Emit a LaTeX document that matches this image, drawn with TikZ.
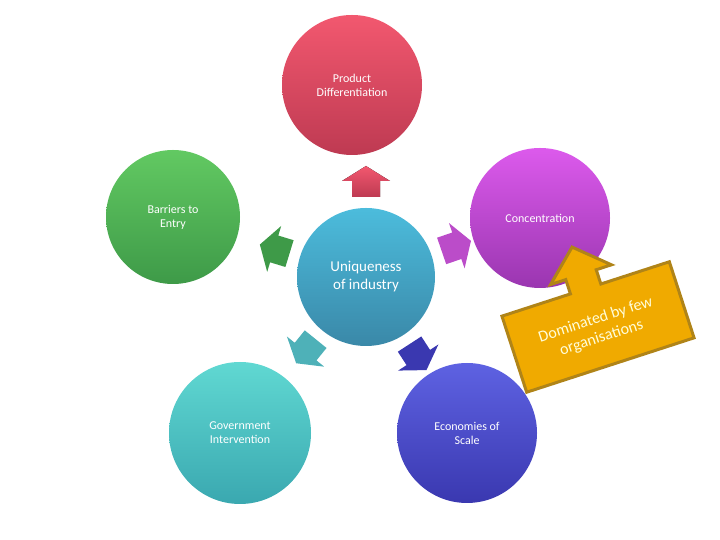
\documentclass[tikz,border=0pt]{standalone}
\usepackage{fontspec}
\setmainfont{Carlito}
\definecolor{rA}{HTML}{F2586F}\definecolor{rB}{HTML}{BE3A52}
\definecolor{gA}{HTML}{62C962}\definecolor{gB}{HTML}{3E9A48}
\definecolor{mA}{HTML}{DC5AEC}\definecolor{mB}{HTML}{9A36B0}
\definecolor{tA}{HTML}{60D8D2}\definecolor{tB}{HTML}{3AA8B0}
\definecolor{bA}{HTML}{5E62E2}\definecolor{bB}{HTML}{3A38B0}
\definecolor{cA}{HTML}{4CBCDC}\definecolor{cB}{HTML}{3A88A8}
\definecolor{oF}{HTML}{F0AA00}\definecolor{oD}{HTML}{B08418}
\begin{document}
\begin{tikzpicture}[x=1pt,y=1pt,
  circ/.style={circle,minimum size=#1,inner sep=0pt,align=center,text=white,font=\fontsize{12}{14}\selectfont},
  barrow/.pic={\fill[pic actions] (-16,-14)--(0,-14)--(0,-24)--(15,0)--(0,24)--(0,14)--(-16,14)--cycle;}]
\useasboundingbox (0,0) rectangle (720,540);
\node[circ=140pt,top color=rA,bottom color=rB] (pd) at (352,455) {Product\\Differentiation};
\node[circ=134pt,top color=gA,bottom color=gB] (be) at (173,323) {Barriers to\\Entry};
\node[circ=140pt,top color=mA,bottom color=mB] (co) at (540,322) {Concentration};
\node[circ=142pt,top color=tA,bottom color=tB] (gi) at (240,107) {Government\\Intervention};
\node[circ=140pt,top color=bA,bottom color=bB] (es) at (467,107) {Economies of\\Scale};
\node[circ=138pt,top color=cA,bottom color=cB,font=\fontsize{15}{18}\selectfont] (un) at (366,263) {Uniqueness\\of industry};
\path (un.center) ++(90:96) pic[rotate=90,top color=rA,bottom color=rB] {barrow};
\path (un.center) ++(163:96) pic[rotate=163,fill=gB] {barrow};
\path (un.center) ++(19:96) pic[rotate=19,fill=mA!85!black] {barrow};
\path (un.center) ++(-129:96) pic[rotate=-129,fill=tB!90!white] {barrow};
\path (un.center) ++(-57:96) pic[rotate=-57,fill=bB] {barrow};
\begin{scope}[shift={(598,213)},rotate=18]
\draw[line width=3pt,draw=oD,fill=oF,line join=miter]
 (-88,-40)--(88,-40)--(88,40)--(16,40)--(16,55)--(32,55)--(0,84)--(-32,55)--(-16,55)--(-16,40)--(-88,40)--cycle;
\node[text=yellow!15!white,align=center,font=\fontsize{16}{19}\selectfont,transform shape] (cb) at (0,-2) {Dominated by few\\organisations};
\end{scope}
\end{tikzpicture}
\end{document}
